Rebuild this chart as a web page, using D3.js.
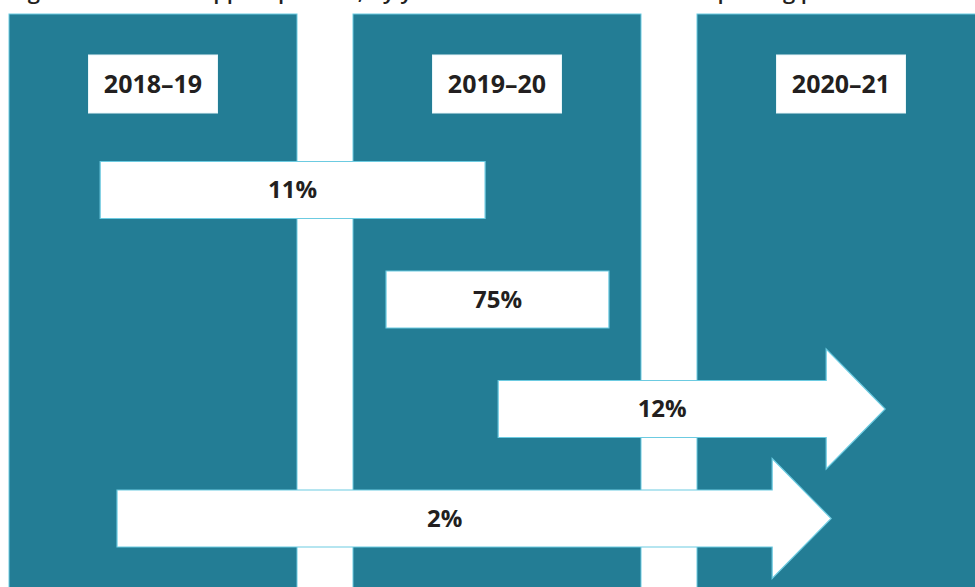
<!DOCTYPE html>
<html>
<head>
<meta charset="utf-8">
<script src="https://cdn.jsdelivr.net/npm/d3@7"></script>
<style>
	body { margin: 0; background: #ffffff; }
	svg { display: block; }
	text { font-family: "Open Sans", "Noto Sans", sans-serif; }
</style>
</head>
<body>
<div id="chart"></div>
<script>
/* support periods across the three reporting years */

var periods = ["2018\u201319", "2019\u201320", "2020\u201321"];
var shares = ["11%", "75%", "12%", "2%"];
// start / end of each band, in years from the start of 2018-19
var starts = [0.265, 1.096, 1.422, 0.314];
var ends = [1.384, 1.744, 2.547, 2.390];
// still open at the end of the reporting period -> drawn as an arrow
var ongoing = [false, false, true, true];

var title = "Figure 4: Clients\u2019 support periods, by year of start and end in the reporting period";

var width = 975;
var height = 587;
var teal = "#237d95";
var edge = "#6ccbe1";
var ink = "#231f20";
var gap = 56;
var barH = 57;
var headLen = 59;
var headHalf = 60;

var svg = d3.select("#chart").append("svg")
	.attr("width", width)
	.attr("height", height);

var x = d3.scaleLinear()
	.domain([0, 3])
	.range([9, 1041]);

var y = d3.scalePoint()
	.domain(shares)
	.range([190, 518.5]);

// title, mostly cropped off the top of the picture (as in the source)
svg.append("text")
	.attr("x", 10)
	.attr("y", -1)
	.text(title)
	.style("font-size", "22px")
	.style("font-weight", 600)
	.style("fill", ink);

// one teal panel per reporting year
var step = x(1) - x(0);
svg.selectAll("rect.panel")
	.data(periods)
	.enter().append("rect")
	.attr("class", "panel")
	.attr("x", function(d, i) { return x(i); })
	.attr("y", 14)
	.attr("width", step - gap)
	.attr("height", height)
	.style("fill", teal)
	.style("stroke", edge)
	.style("stroke-width", 1);

// year labels
var labW = 129, labH = 58;
var lab = svg.selectAll("g.year")
	.data(periods)
	.enter().append("g")
	.attr("class", "year")
	.attr("transform", function(d, i) {
		return "translate(" + (x(i) + (step - gap) / 2) + ",84)";
	});

lab.append("rect")
	.attr("x", -labW / 2)
	.attr("y", -labH / 2)
	.attr("width", labW)
	.attr("height", labH)
	.style("fill", "#ffffff")
	.style("stroke", "#e9f6f9")
	.style("stroke-width", 1);

lab.append("text")
	.attr("text-anchor", "middle")
	.attr("dy", ".35em")
	.text(function(d) { return d; })
	.style("font-size", "25px")
	.style("font-weight", 700)
	.style("fill", ink);

// the bands: plain box if closed, arrow if still going
function bandPath(d, i) {
	var x0 = x(starts[i]), x1 = x(ends[i]);
	var cy = y(d), t = cy - barH / 2, b = cy + barH / 2;
	if (!ongoing[i]) {
		return "M" + x0 + "," + t + "H" + x1 + "V" + b + "H" + x0 + "Z";
	}
	var xb = x1 - headLen;
	return "M" + x0 + "," + t + "H" + xb + "V" + (cy - headHalf) +
		"L" + x1 + "," + cy + "L" + xb + "," + (cy + headHalf) +
		"V" + b + "H" + x0 + "Z";
}

var band = svg.selectAll("g.band")
	.data(shares)
	.enter().append("g")
	.attr("class", "band");

band.append("path")
	.attr("d", bandPath)
	.style("fill", "#ffffff")
	.style("stroke", edge)
	.style("stroke-width", 1.2)
	.style("stroke-linejoin", "miter");

band.append("text")
	.attr("x", function(d, i) {
		var x1 = ongoing[i] ? x(ends[i]) - headLen : x(ends[i]);
		return (x(starts[i]) + x1) / 2;
	})
	.attr("y", function(d) { return y(d); })
	.attr("dy", ".35em")
	.attr("text-anchor", "middle")
	.text(function(d) { return d; })
	.style("font-size", "24px")
	.style("font-weight", 700)
	.style("fill", ink);
</script>
</body>
</html>
